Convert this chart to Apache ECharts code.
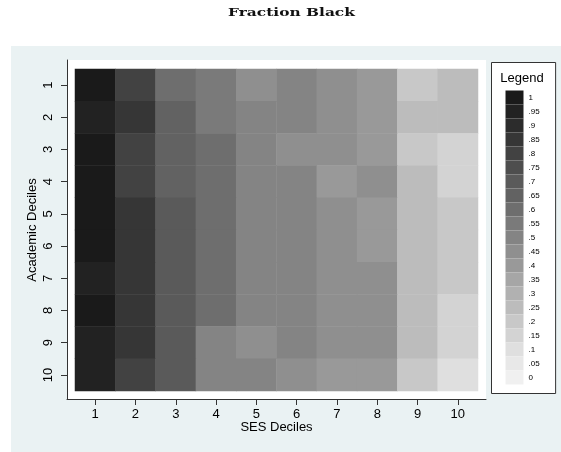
<!DOCTYPE html>
<html><head><meta charset="utf-8">
<script src="https://cdn.jsdelivr.net/npm/echarts@6/dist/echarts.min.js"></script>
<style>html,body{margin:0;padding:0;background:#fff}#c{width:561px;height:452px}</style>
</head><body><div id="c"></div><script>
// Categories
const sesDeciles = ['1','2','3','4','5','6','7','8','9','10'];
const academicDeciles = ['1','2','3','4','5','6','7','8','9','10'];

// Fraction black, one array per academic decile (values for SES deciles 1..10)
const acad1  = [1.00, 0.80, 0.60, 0.55, 0.45, 0.50, 0.45, 0.40, 0.20, 0.25];
const acad2  = [0.95, 0.85, 0.65, 0.55, 0.50, 0.50, 0.45, 0.40, 0.25, 0.25];
const acad3  = [1.00, 0.80, 0.65, 0.60, 0.50, 0.45, 0.45, 0.40, 0.20, 0.15];
const acad4  = [1.00, 0.80, 0.65, 0.60, 0.50, 0.50, 0.40, 0.45, 0.25, 0.15];
const acad5  = [1.00, 0.85, 0.70, 0.60, 0.50, 0.50, 0.45, 0.40, 0.25, 0.20];
const acad6  = [1.00, 0.85, 0.70, 0.60, 0.50, 0.50, 0.45, 0.40, 0.25, 0.20];
const acad7  = [0.95, 0.85, 0.70, 0.60, 0.50, 0.50, 0.45, 0.45, 0.25, 0.20];
const acad8  = [1.00, 0.85, 0.70, 0.60, 0.50, 0.50, 0.45, 0.45, 0.25, 0.15];
const acad9  = [0.95, 0.85, 0.70, 0.50, 0.45, 0.50, 0.45, 0.45, 0.25, 0.15];
const acad10 = [0.95, 0.80, 0.70, 0.50, 0.50, 0.45, 0.40, 0.40, 0.20, 0.10];

// Legend bins
const legendValues = [0, 0.05, 0.1, 0.15, 0.2, 0.25, 0.3, 0.35, 0.4, 0.45, 0.5, 0.55, 0.6, 0.65, 0.7, 0.75, 0.8, 0.85, 0.9, 0.95, 1];
const legendLabels = ['0', '.05', '.1', '.15', '.2', '.25', '.3', '.35', '.4', '.45', '.5', '.55', '.6', '.65', '.7', '.75', '.8', '.85', '.9', '.95', '1'];
const legendColors = ['#f0f0f0', '#e8e8e8', '#dfdfdf', '#d3d3d3', '#c8c8c8', '#bcbcbc', '#b1b1b1', '#a6a6a6', '#999999', '#8f8f8f', '#848484', '#7a7a7a', '#6e6e6e', '#626262', '#5a5a5a', '#4e4e4e', '#424242', '#363636', '#2c2c2c', '#222222', '#1a1a1a'];

const rows = [acad1, acad2, acad3, acad4, acad5, acad6, acad7, acad8, acad9, acad10];
const data = [];
rows.forEach((r, yi) => r.forEach((v, xi) => data.push([xi, yi, v])));

const FONT = 'Liberation Sans';
const chart = echarts.init(document.getElementById('c'), null, {renderer: 'canvas'});
chart.setOption({
  animation: false,
  backgroundColor: '#ffffff',
  graphic: {elements: [
    {type: 'rect', silent: true, z: -10, shape: {x: 11, y: 46, width: 550, height: 406}, style: {fill: '#eaf2f3'}},
    {type: 'text', silent: true, z: 10, x: 291.5, y: 13, scaleX: 1.4, style: {text: 'Fraction Black', fontFamily: 'DejaVu Serif', fontWeight: 'bold', fontSize: 11, fill: '#111', align: 'center', verticalAlign: 'middle'}},
    {type: 'text', silent: true, z: 10, x: 522, y: 78, style: {text: 'Legend', fontFamily: FONT, fontSize: 13, fill: '#000', align: 'center', verticalAlign: 'middle'}}
  ]},
  grid: [
    {left: 67, top: 60, width: 419, height: 339, show: true, backgroundColor: '#ffffff', borderWidth: 0},
    {left: 75, top: 69, width: 403, height: 322}
  ],
  xAxis: [
    {gridIndex: 0, type: 'value', min: 0, max: 1, axisLine: {show: true, onZero: false, lineStyle: {color: '#333', width: 1}},
     axisTick: {show: false}, axisLabel: {show: false}, splitLine: {show: false}},
    {gridIndex: 1, type: 'category', data: sesDeciles, offset: 8,
     axisLine: {show: false}, axisTick: {show: true, alignWithLabel: true, length: 6, lineStyle: {color: '#333'}},
     axisLabel: {interval: 0, fontFamily: FONT, fontSize: 13, color: '#000', margin: 9},
     splitLine: {show: false},
     name: 'SES Deciles', nameLocation: 'middle', nameGap: 22, nameMoveOverlap: false,
     nameTextStyle: {fontFamily: FONT, fontSize: 13, color: '#000'}}
  ],
  yAxis: [
    {gridIndex: 0, type: 'value', min: 0, max: 1, axisLine: {show: true, onZero: false, lineStyle: {color: '#333', width: 1}},
     axisTick: {show: false}, axisLabel: {show: false}, splitLine: {show: false}},
    {gridIndex: 1, type: 'category', data: academicDeciles, inverse: true, offset: 8,
     axisLine: {show: false}, axisTick: {show: true, alignWithLabel: true, length: 6, lineStyle: {color: '#333'}},
     axisLabel: {interval: 0, rotate: 90, fontFamily: FONT, fontSize: 13, color: '#000', margin: 12},
     splitLine: {show: false},
     name: 'Academic Deciles', nameLocation: 'middle', nameGap: 28, nameRotate: 90, nameMoveOverlap: false,
     nameTextStyle: {fontFamily: FONT, fontSize: 13, color: '#000'}}
  ],
  visualMap: {
    type: 'piecewise', seriesIndex: 0, orient: 'vertical', left: 491, top: 62, align: 'left',
    pieces: legendValues.map((v, i) => ({min: v - 0.025, max: v + 0.025, label: legendLabels[i], color: legendColors[i]})),
    itemWidth: 18, itemHeight: 14, itemGap: 0, itemSymbol: 'rect', textGap: 5,
    backgroundColor: '#fff', borderColor: '#333', borderWidth: 1, padding: [28, 16, 9, 14],
    textStyle: {fontFamily: FONT, fontSize: 8, color: '#000'},
    hoverLink: false, selectedMode: false
  },
  series: [{
    type: 'heatmap', xAxisIndex: 1, yAxisIndex: 1, data: data,
    label: {show: false}, itemStyle: {borderWidth: 0}, emphasis: {disabled: true}
  }]
});
</script></body></html>
